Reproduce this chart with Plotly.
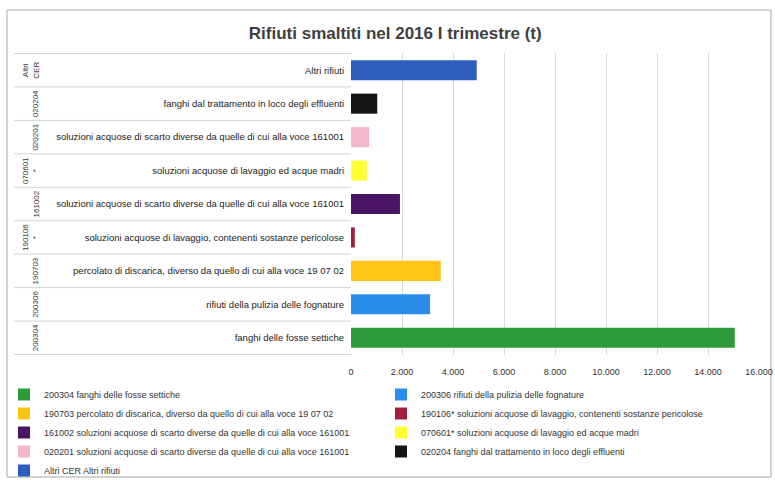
import plotly.graph_objects as go

# ---- data (bottom-to-top order of the chart) ----
codes = ["200304", "200306", "190703", "190106*", "161002", "070601*", "020201", "020204", "Altri CER"]
descriptions = [
    "fanghi delle fosse settiche",
    "rifiuti della pulizia delle fognature",
    "percolato di discarica, diverso da quello di cui alla voce 19 07 02",
    "soluzioni acquose di lavaggio, contenenti sostanze pericolose",
    "soluzioni acquose di scarto diverse da quelle di cui alla voce 161001",
    "soluzioni acquose di lavaggio ed acque madri",
    "soluzioni acquose di scarto diverse da quelle di cui alla voce 161001",
    "fanghi dal trattamento in loco degli effluenti",
    "Altri rifiuti",
]
values = [15050, 3100, 3520, 150, 1920, 620, 710, 1030, 4930]
colors = ["#2E9B3A", "#2B8DEB", "#FFC516", "#A0203E", "#4B1566", "#FFFF33", "#F4B8CA", "#151515", "#2E5DBE"]
x_ticks = [0, 2000, 4000, 6000, 8000, 10000, 12000, 14000, 16000]
title = "Rifiuti smaltiti nel 2016 I trimestre (t)"

FONT = "Liberation Sans, Arial, sans-serif"

W, H = 775, 480
L, R, T, B = 351, 16, 53, 125
pw = W - L - R
ph = H - T - B


def px_x(p):
    return (p - L) / pw


def px_y(p):
    return (H - B - p) / ph


fig = go.Figure()
for c, d, v, col in zip(codes, descriptions, values, colors):
    fig.add_trace(go.Bar(
        y=[c], x=[v], orientation="h", name=f"{c} {d}",
        marker=dict(color=col, line=dict(width=0)), width=0.6,
    ))

shapes = []
# category separators in label area
for i in range(len(codes) + 1):
    shapes.append(dict(type="line", xref="paper", yref="y",
                       x0=px_x(14), x1=0, y0=i - 0.5, y1=i - 0.5,
                       line=dict(color="#D4D4D4", width=1)))
# outer chart border
shapes.append(dict(type="rect", xref="paper", yref="paper",
                   x0=px_x(7), x1=px_x(771), y0=px_y(477), y1=px_y(10),
                   line=dict(color="#A6A6A6", width=1), layer="below"))

annotations = []
for i, c in enumerate(codes):
    label = c.replace("*", "<br>*").replace(" ", "<br>")
    annotations.append(dict(
        xref="paper", yref="y", x=px_x(42), y=i, text=label,
        textangle=-90, xanchor="right", yanchor="middle", showarrow=False,
        font=dict(family=FONT, size=8, color="#333333"), align="center",
    ))

fig.update_layout(
    width=W, height=H,
    margin=dict(l=L, r=R, t=T, b=B, autoexpand=False),
    paper_bgcolor="white", plot_bgcolor="white",
    separators=",.",
    barmode="overlay",
    title=dict(text=f"<b>{title}</b>", x=0.51, xanchor="center",
               y=1 - 33 / H, yanchor="middle", yref="container",
               font=dict(family=FONT, size=17, color="#404040")),
    xaxis=dict(range=[0, 16000], tickvals=x_ticks, tickformat=",d",
               showgrid=True, gridcolor="#D9D9D9", gridwidth=1,
               zeroline=False, showline=False, ticks="", automargin=False,
               ticklabelstandoff=10,
               tickfont=dict(family=FONT, size=9, color="#333333")),
    yaxis=dict(categoryorder="array", categoryarray=codes,
               tickvals=codes, ticktext=descriptions, automargin=False,
               showgrid=False, zeroline=False, showline=False, ticks="",
               ticklabelstandoff=6,
               tickfont=dict(family=FONT, size=9.5, color="#222222")),
    legend=dict(orientation="h", xref="paper", yref="paper",
                x=px_x(4), y=px_y(380), xanchor="left", yanchor="top",
                entrywidth=332, traceorder="normal",
                font=dict(family=FONT, size=9, color="#333333"),
                bgcolor="rgba(0,0,0,0)"),
    showlegend=True,
    shapes=shapes,
    annotations=annotations,
)

fig.write_html("out.html", config={"displayModeBar": False},
               post_script="document.body.style.margin='0px';")
